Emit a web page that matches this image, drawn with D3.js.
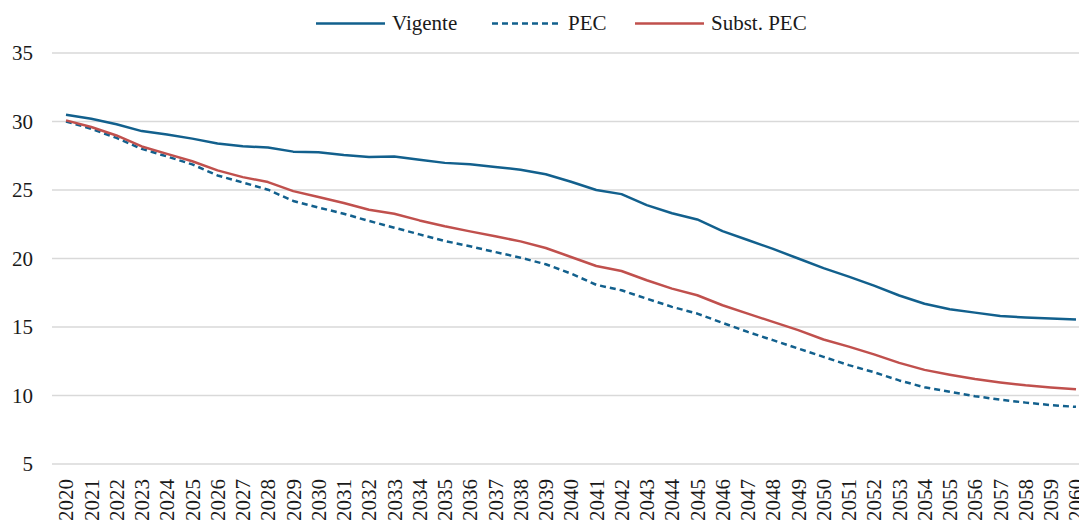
<!DOCTYPE html>
<html>
<head>
<meta charset="utf-8">
<script src="https://cdn.jsdelivr.net/npm/d3@7"></script>
<style>
  html, body { margin: 0; padding: 0; background: #fff; overflow: hidden; }
  svg { display: block; }
  text { font-family: "Liberation Serif", "DejaVu Serif", serif; fill: #1a1a1a; }
</style>
</head>
<body>
<svg id="chart" width="1079" height="526"></svg>
<script>
const years = d3.range(2020, 2061).map(String);
const vigente = [30.5, 30.2, 29.8, 29.3, 29.05, 28.75, 28.4, 28.2, 28.1, 27.8, 27.75,
  27.55, 27.4, 27.45, 27.2, 26.98, 26.88, 26.68, 26.48, 26.15, 25.6,
  25.0, 24.7, 23.9, 23.3, 22.85, 22.0, 21.35, 20.7, 20.0, 19.3,
  18.68, 18.02, 17.3, 16.7, 16.3, 16.05, 15.8, 15.7, 15.62, 15.55];
const pec = [30.0, 29.47, 28.8, 28.0, 27.45, 26.87, 26.06, 25.55, 25.02, 24.2, 23.72,
  23.27, 22.74, 22.25, 21.76, 21.28, 20.89, 20.47, 20.06, 19.58, 18.9,
  18.08, 17.68, 17.07, 16.47, 15.98, 15.3, 14.64, 14.04, 13.43, 12.82,
  12.22, 11.7, 11.1, 10.6, 10.28, 9.95, 9.7, 9.48, 9.3, 9.17];
const subst = [30.08, 29.6, 28.98, 28.18, 27.64, 27.1, 26.43, 25.94, 25.58, 24.92, 24.49,
  24.05, 23.56, 23.27, 22.78, 22.35, 21.98, 21.62, 21.25, 20.77, 20.11,
  19.45, 19.09, 18.41, 17.8, 17.32, 16.59, 15.98, 15.37, 14.77, 14.09,
  13.57, 13.0, 12.38, 11.87, 11.52, 11.2, 10.95, 10.74, 10.58, 10.45];
const yTicks = [5, 10, 15, 20, 25, 30, 35];
const seriesNames = ["Vigente", "PEC", "Subst. PEC"];

const BLUE = "#12608d", RED = "#c0504d";
const FONT = "Liberation Serif";
const FS = 21;
const series = [
  { name: seriesNames[0], values: vigente, color: BLUE, dash: null },
  { name: seriesNames[1], values: pec, color: BLUE, dash: "6,4" },
  { name: seriesNames[2], values: subst, color: RED, dash: null }
];

const svg = d3.select("#chart");
const x = d3.scalePoint().domain(years).range([66, 1076]);
const y = d3.scaleLinear().domain([5, 35]).range([464, 53]);

// gridlines
svg.append("g").selectAll("line").data(yTicks).join("line")
  .attr("x1", 52).attr("x2", 1079)
  .attr("y1", d => y(d)).attr("y2", d => y(d))
  .attr("stroke", "#d9d9d9").attr("stroke-width", 1.5);

// y axis labels
const yAxis = d3.axisLeft(y).tickValues(yTicks).tickSize(0).tickPadding(0);
const gy = svg.append("g").attr("transform", "translate(33,0)").call(yAxis);
gy.select(".domain").remove();
gy.selectAll("text").attr("font-size", FS).attr("fill", "#1a1a1a")
  .attr("font-family", FONT).attr("dy", "0.33em");

// x axis labels
const xAxis = d3.axisBottom(x).tickSize(0).tickPadding(0);
const gx = svg.append("g").attr("transform", "translate(0,479)").call(xAxis);
gx.select(".domain").remove();
gx.selectAll("text")
  .attr("font-size", FS).attr("fill", "#1a1a1a").attr("font-family", FONT)
  .attr("transform", "rotate(-90)")
  .attr("text-anchor", "end")
  .attr("x", 0).attr("y", 0).attr("dy", "0.33em");

// lines
const line = d3.line().x((d, i) => x(years[i])).y(d => y(d));
svg.append("g").selectAll("path").data(series).join("path")
  .attr("d", d => line(d.values))
  .attr("fill", "none")
  .attr("stroke", d => d.color)
  .attr("stroke-width", 2.5)
  .attr("stroke-dasharray", d => d.dash)
  .attr("stroke-linejoin", "round");

// legend
const legendPos = [{ x1: 316, x2: 385, tx: 392 }, { x1: 492, x2: 562, tx: 568 }, { x1: 635, x2: 704, tx: 711 }];
const lg = svg.append("g").selectAll("g").data(series).join("g");
lg.append("line")
  .attr("x1", (d, i) => legendPos[i].x1).attr("x2", (d, i) => legendPos[i].x2)
  .attr("y1", 23.5).attr("y2", 23.5)
  .attr("stroke", d => d.color).attr("stroke-width", 2.5)
  .attr("stroke-dasharray", d => d.dash);
lg.append("text")
  .attr("x", (d, i) => legendPos[i].tx).attr("y", 23.5).attr("dy", "0.33em")
  .attr("font-size", FS).attr("font-family", FONT)
  .text(d => d.name);
</script>
</body>
</html>
